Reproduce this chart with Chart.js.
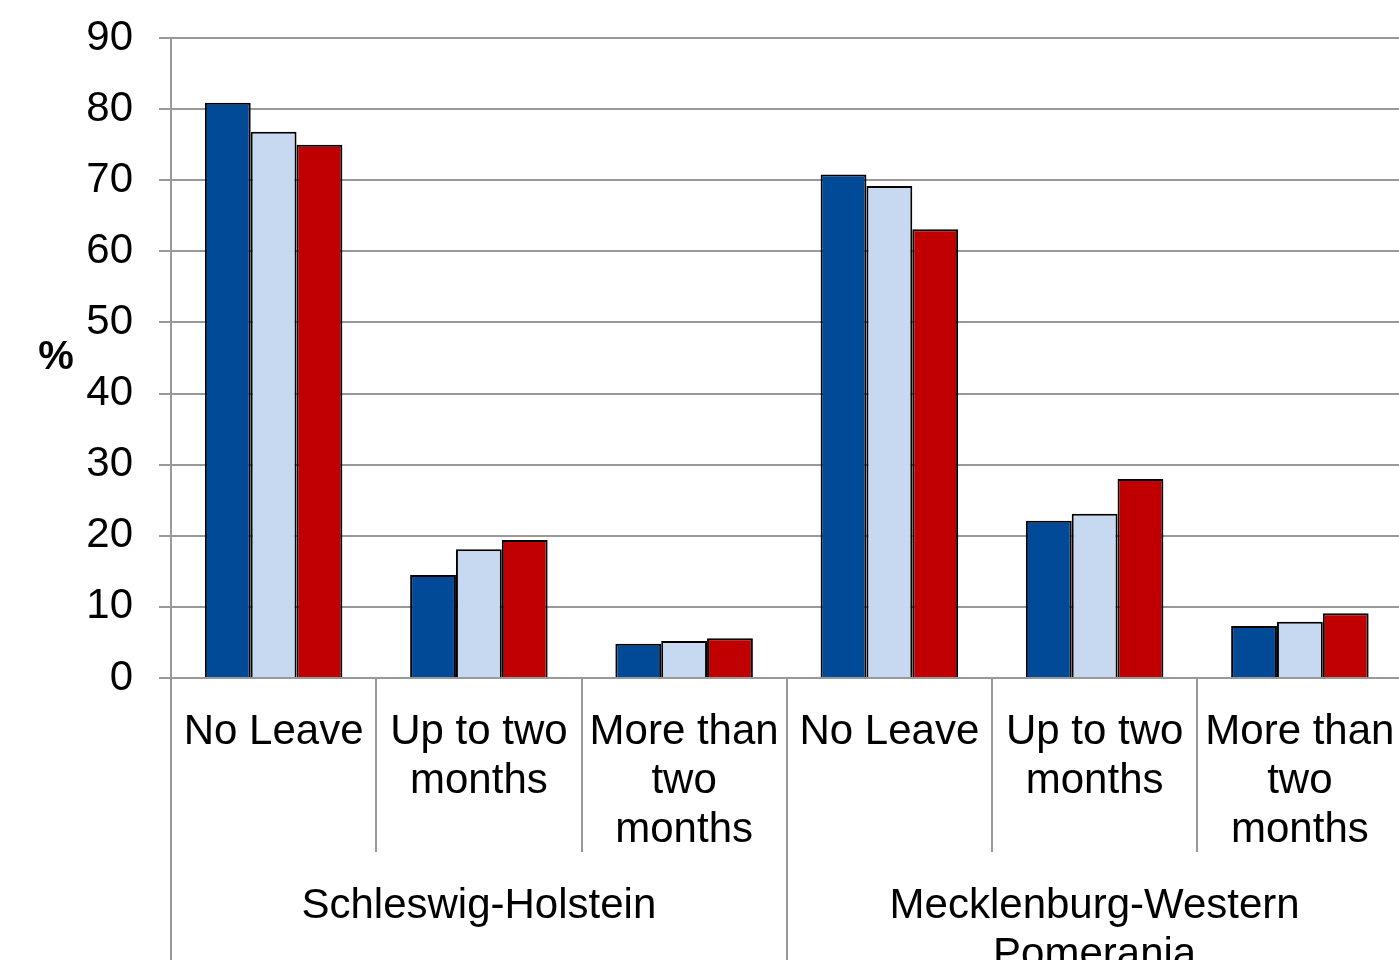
<!DOCTYPE html>
<html>
<head>
<meta charset="utf-8">
<script src="https://cdn.jsdelivr.net/npm/chart.js@4.4.0/dist/chart.umd.min.js"></script>
<style>
  html, body { margin: 0; padding: 0; background: #fff; overflow: hidden; }
  #wrap { position: relative; width: 1420px; height: 1000px; }
</style>
</head>
<body>
<div id="wrap"><canvas id="chart" width="1420" height="1000"></canvas></div>
<script>
const subLabels = [
  ['No Leave'], ['Up to two', 'months'], ['More than', 'two', 'months'],
  ['No Leave'], ['Up to two', 'months'], ['More than', 'two', 'months'],
];
const groupLabels = ['Schleswig-Holstein', ['Mecklenburg-Western', 'Pomerania']];
const groupSize = 3;

const series1 = [80.9, 14.5, 4.8, 70.8, 22.1, 7.3];
const series2 = [76.8, 18.1, 5.2, 69.2, 23.1, 7.9];
const series3 = [75.0, 19.4, 5.6, 63.1, 28.0, 9.1];

const yTicks = [0, 10, 20, 30, 40, 50, 60, 70, 80, 90];

const FONT = "'Liberation Sans', Arial, sans-serif";
const GRID = '#999999';

const colors = {
  s1: '#004a98',
  s2: '#c6d9f0',
  s3: '#c00000',
};

function barSet(label, data, color) {
  return {
    label,
    data,
    backgroundColor: color,
    borderColor: '#000',
    borderWidth: 2,
    borderSkipped: 'bottom',
    categoryPercentage: 0.67,
    barPercentage: 1.0,
  };
}

// separators for the two-level axis + the "%" label
const axisDecor = {
  id: 'axisDecor',
  afterDraw(chart) {
    const { ctx, chartArea } = chart;
    const x = chart.scales.x;
    const step = x.getPixelForTick(1) - x.getPixelForTick(0);
    ctx.save();
    ctx.strokeStyle = GRID;
    ctx.lineWidth = 2;
    for (let i = 0; i <= subLabels.length; i++) {
      const px = i === 0 ? chartArea.left : Math.round(x.getPixelForTick(i - 1) + step / 2);
      const end = (i % groupSize === 0) ? chart.height : x.bottom;
      ctx.beginPath();
      ctx.moveTo(px, chartArea.bottom);
      ctx.lineTo(px, end);
      ctx.stroke();
    }
    ctx.fillStyle = '#000';
    ctx.font = 'bold 40px ' + FONT;
    ctx.textAlign = 'center';
    ctx.textBaseline = 'middle';
    ctx.fillText('%', 56, 358);
    ctx.restore();
  }
};

new Chart(document.getElementById('chart'), {
  type: 'bar',
  data: {
    labels: subLabels,
    datasets: [
      barSet('Series 1', series1, colors.s1),
      barSet('Series 2', series2, colors.s2),
      barSet('Series 3', series3, colors.s3),
    ],
  },
  options: {
    responsive: false,
    animation: false,
    devicePixelRatio: 1,
    layout: { padding: { top: 38, right: 17.5, left: 0, bottom: 0 } },
    plugins: {
      legend: { display: false },
      tooltip: { enabled: false },
    },
    scales: {
      y: {
        min: 0,
        max: 90,
        afterBuildTicks: (scale) => { scale.ticks = yTicks.map(v => ({ value: v })); },
        afterFit: (scale) => {
          scale.width = 171;
          scale.paddingTop = 0;
          scale.paddingBottom = 0;
        },
        ticks: { color: '#000', font: { family: FONT, size: 42 }, padding: 26 },
        grid: { color: GRID, lineWidth: 2, tickLength: 12 },
        border: { color: GRID, width: 2 },
      },
      x: {
        afterFit: (scale) => { scale.height = 174; },
        ticks: {
          color: '#000',
          font: { family: FONT, size: 42, lineHeight: 1.167 },
          padding: 22,
          autoSkip: false,
          maxRotation: 0,
          minRotation: 0,
        },
        grid: { display: false },
        border: { display: false },
      },
      x2: {
        type: 'category',
        position: 'bottom',
        weight: 1,
        labels: groupLabels,
        afterFit: (scale) => { scale.height = 148; },
        ticks: {
          color: '#000',
          font: { family: FONT, size: 42, lineHeight: 1.167 },
          padding: 22,
          autoSkip: false,
          maxRotation: 0,
          minRotation: 0,
        },
        grid: { display: false },
        border: { display: false },
      },
    },
  },
  plugins: [axisDecor],
});
</script>
</body>
</html>
